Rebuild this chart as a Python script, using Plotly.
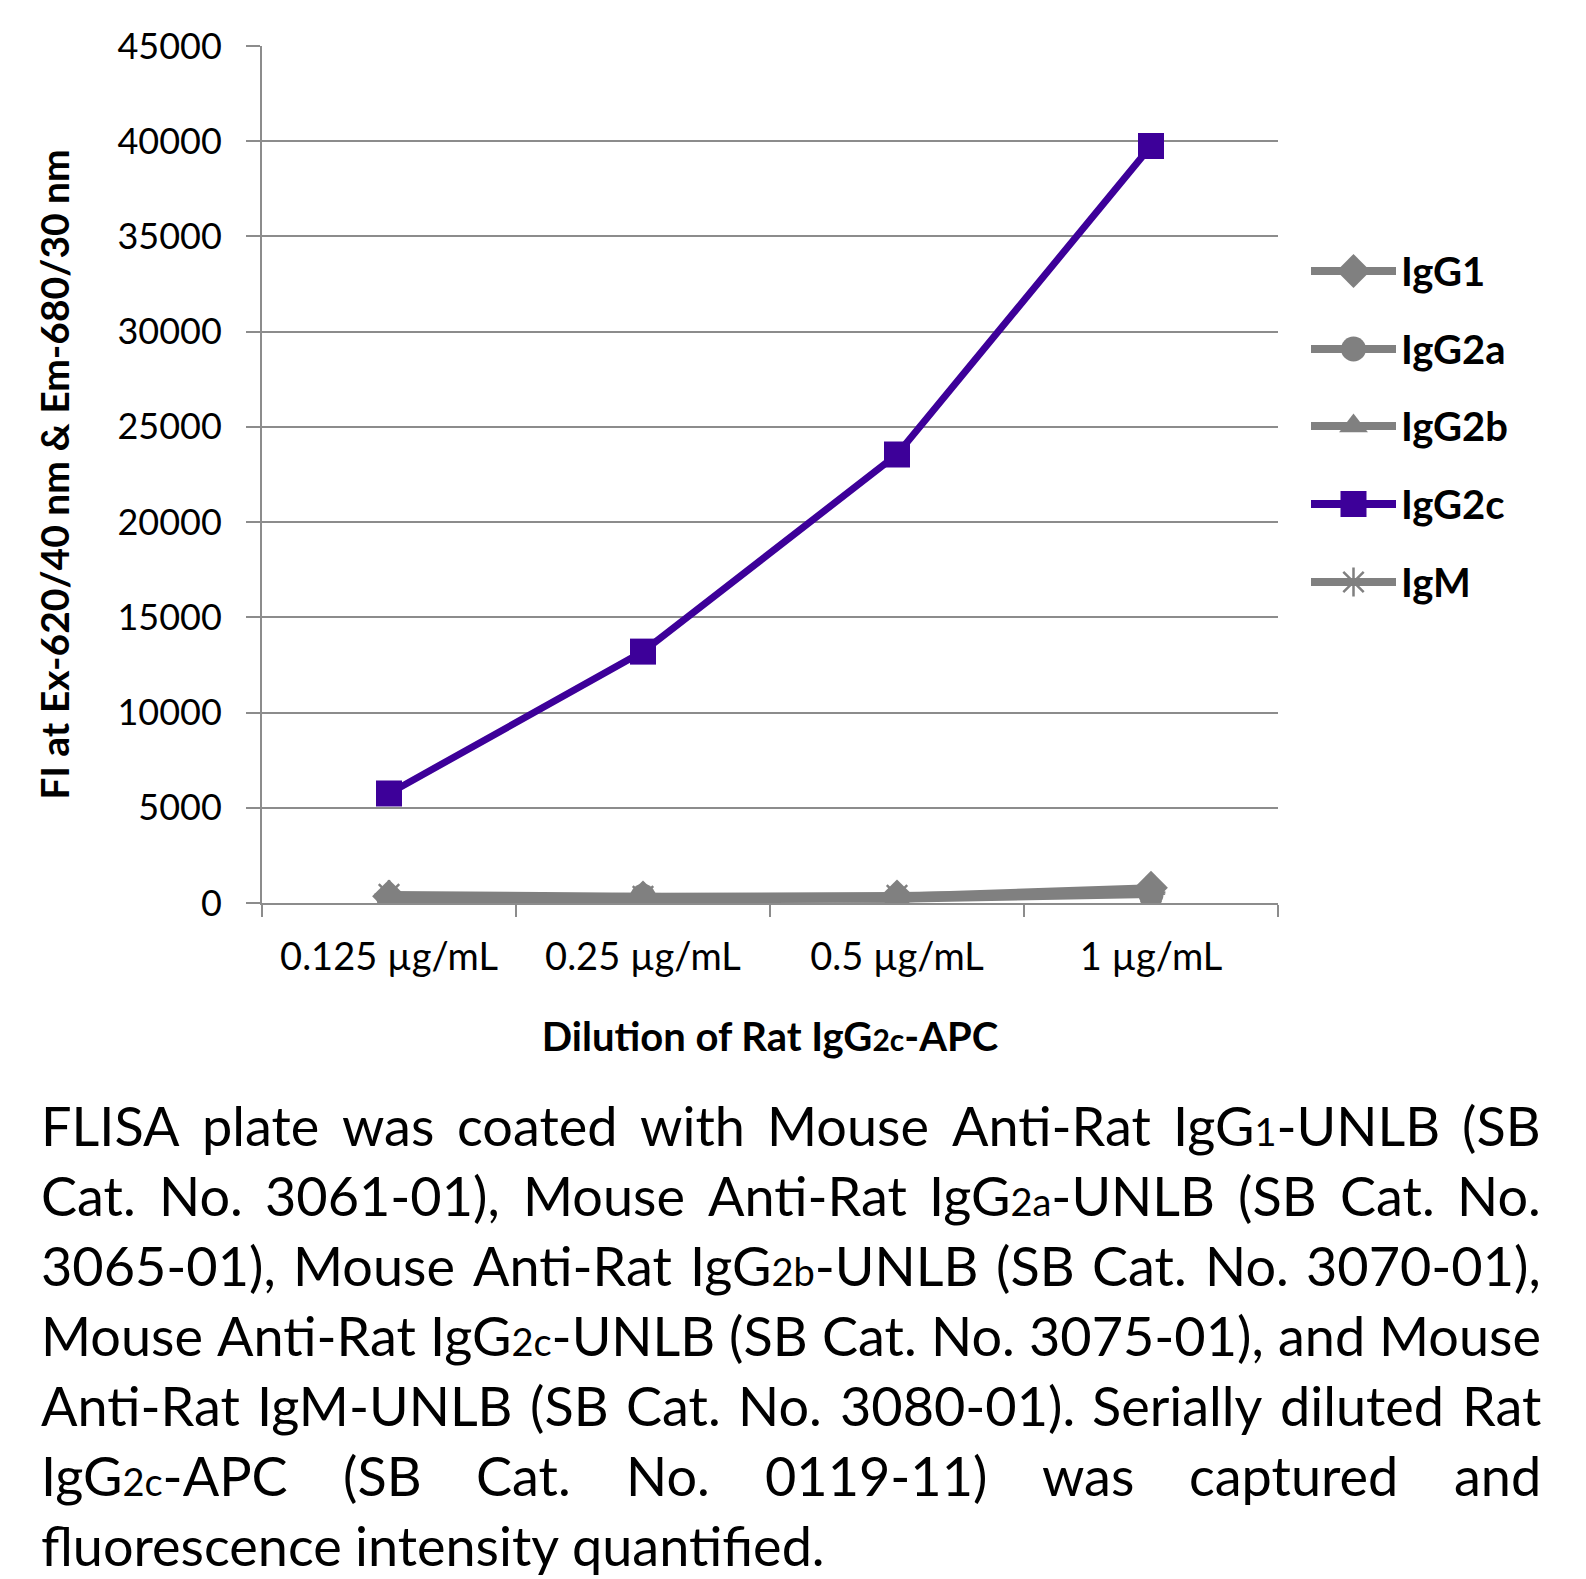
import plotly.graph_objects as go

# ---------------- data ----------------
categories = ["0.125 µg/mL", "0.25 µg/mL", "0.5 µg/mL", "1 µg/mL"]
igg1 = [350, 300, 350, 800]
igg2a = [250, 350, 200, 450]
igg2b = [150, 150, 200, 750]
igg2c = [5750, 13200, 23550, 39750]
igm = [450, 350, 400, 550]
y_ticks = [0, 5000, 10000, 15000, 20000, 25000, 30000, 35000, 40000, 45000]
legend_names = ["IgG1", "IgG2a", "IgG2b", "IgG2c", "IgM"]

GRAY = "#808080"
PURPLE = "#3D0099"
FONT = "Lato"

# page body has an 8px margin; figure coords = page coords - 8
W, H = 1578, 1571
ML, MT = 254, 38
PW_MAIN = 1016
PH = 857
MR = 20
PW = W - ML - MR
MB = H - MT - PH


def px(fx):
    return (fx - ML) / PW


def py(fy):
    return 1 - (fy - MT) / PH


fig = go.Figure()

styles = {
    "IgG1": (GRAY, dict(symbol="diamond", size=26)),
    "IgG2a": (GRAY, dict(symbol="circle", size=25)),
    "IgG2b": (GRAY, dict(symbol="triangle-up", size=25)),
    "IgG2c": (PURPLE, dict(symbol="square", size=26)),
    "IgM": (GRAY, dict(symbol="asterisk-open", size=24, line=dict(width=2.5, color=GRAY))),
}
series = [("IgG1", igg1), ("IgG2a", igg2a), ("IgG2b", igg2b), ("IgG2c", igg2c), ("IgM", igm)]
for name, vals in series:
    col, mk = styles[name]
    m = dict(color=col, **mk)
    if "line" not in m:
        m["line"] = dict(width=0)
    fig.add_trace(go.Scatter(
        x=categories, y=vals, name=name, mode="lines+markers",
        line=dict(color=col, width=7), marker=m, showlegend=False,
        xaxis="x", yaxis="y",
    ))

# custom legend (long line samples like the original)
leg_y = [263, 341, 418, 496, 574]
for name, ly in zip(legend_names, leg_y):
    col, mk = styles[name]
    m = dict(color=col, **mk)
    if "line" not in m:
        m["line"] = dict(width=0)
    fig.add_trace(go.Scatter(
        x=[0, 0.5, 1], y=[ly, ly, ly], mode="lines", line=dict(color=col, width=8),
        showlegend=False, hoverinfo="skip", xaxis="x2", yaxis="y2",
    ))
    fig.add_trace(go.Scatter(
        x=[0.5], y=[ly], mode="markers", marker=m,
        showlegend=False, hoverinfo="skip", xaxis="x2", yaxis="y2",
    ))
    fig.add_annotation(
        text=f"<b>{name}</b>", xref="paper", yref="paper",
        x=px(1391), y=py(ly), xanchor="left", yanchor="middle", showarrow=False,
        font=dict(family=FONT, size=40, color="black"),
    )

fig.update_layout(
    xaxis=dict(
        domain=[0, PW_MAIN / PW],
        type="category", categoryorder="array", categoryarray=categories,
        showgrid=False, showline=True, linecolor="#8c8c8c", linewidth=2,
        ticks="outside", tickson="boundaries", ticklen=12, tickwidth=2, tickcolor="#8c8c8c",
        ticklabelstandoff=19,
        tickfont=dict(family=FONT, size=38, color="black"),
        title=dict(text="<b>Dilution of Rat IgG<span style='font-size:30px'>2c</span>-APC</b>",
                   font=dict(family=FONT, size=40, color="black"), standoff=46),
        range=[-0.5, 3.5], zeroline=False,
    ),
    yaxis=dict(
        range=[0, 45000], tickvals=y_ticks, ticktext=[str(v) for v in y_ticks],
        showgrid=True, gridcolor="#8c8c8c", gridwidth=2,
        showline=True, linecolor="#8c8c8c", linewidth=2,
        ticks="outside", ticklen=14, tickwidth=2, tickcolor="#8c8c8c",
        ticklabelstandoff=17,
        tickfont=dict(family=FONT, size=36, color="black"),
        title=dict(text="<b>FI at Ex-620/40 nm &amp; Em-680/30 nm</b>",
                   font=dict(family=FONT, size=39, color="black"), standoff=36),
        zeroline=False,
    ),
    xaxis2=dict(domain=[px(1303), px(1388)], range=[0, 1], visible=False, fixedrange=True),
    yaxis2=dict(domain=[0, 1], range=[MT + PH, MT], visible=False, fixedrange=True, anchor="x2"),
)

# ---------------- caption (justified via post script) ----------------
SUB = "<span style='font-size:38px'>{}</span>"
caption_lines = [
    ["FLISA", "plate", "was", "coated", "with", "Mouse", "Anti-Rat", "IgG" + SUB.format("1") + "-UNLB", "(SB"],
    ["Cat.", "No.", "3061-01),", "Mouse", "Anti-Rat", "IgG" + SUB.format("2a") + "-UNLB", "(SB", "Cat.", "No."],
    ["3065-01),", "Mouse", "Anti-Rat", "IgG" + SUB.format("2b") + "-UNLB", "(SB", "Cat.", "No.", "3070-01),"],
    ["Mouse", "Anti-Rat", "IgG" + SUB.format("2c") + "-UNLB", "(SB", "Cat.", "No.", "3075-01),", "and", "Mouse"],
    ["Anti-Rat", "IgM-UNLB", "(SB", "Cat.", "No.", "3080-01).", "Serially", "diluted", "Rat"],
    ["IgG" + SUB.format("2c") + "-APC", "(SB", "Cat.", "No.", "0119-11)", "was", "captured", "and"],
    ["fluorescence", "intensity", "quantified."],
]
line_y = [1117, 1187, 1257, 1327, 1397, 1467, 1537]
CAP_LEFT, CAP_RIGHT = 32, 1532
CAP_SIZE = 54

for li, words in enumerate(caption_lines):
    last = li == len(caption_lines) - 1
    n = len(words)
    plain_len = [len(w.replace(SUB.split("{}")[0], "").replace("</span>", "")) for w in words]
    est_w = [c * CAP_SIZE * 0.5 for c in plain_len]
    if last:
        gap = CAP_SIZE * 0.25
    else:
        gap = (CAP_RIGHT - CAP_LEFT - sum(est_w)) / (n - 1)
    xpos = CAP_LEFT
    for wi, wtxt in enumerate(words):
        fig.add_annotation(
            name=("capL" if last else "cap") + f"{li}_{wi}",
            text=wtxt, xref="paper", yref="paper",
            x=px(xpos), y=py(line_y[li]),
            xanchor="left", yanchor="middle", showarrow=False, borderpad=0,
            font=dict(family=FONT, size=CAP_SIZE, color="black"),
        )
        xpos += est_w[wi] + gap

post = """
var gd = document.getElementById('{plot_id}');
try {
  var fl = gd._fullLayout;
  var L = fl._size.l, Wd = fl._size.w;
  var anns = gd.layout.annotations;
  var widths = {};
  gd.querySelectorAll('.annotation').forEach(function(n){
    var idx = +n.getAttribute('data-index');
    var t = n.querySelector('.annotation-text');
    if (t) widths[idx] = t.getBBox().width;
  });
  var groups = {}, lastFlag = {};
  anns.forEach(function(a, i){
    if (a.name && a.name.indexOf('cap') === 0) {
      var isLast = a.name.indexOf('capL') === 0;
      var p = a.name.slice(isLast ? 4 : 3).split('_');
      var li = +p[0];
      (groups[li] = groups[li] || []).push({i: i, j: +p[1]});
      lastFlag[li] = isLast;
    }
  });
  var upd = {};
  var left = %d, right = %d, fs = %d;
  Object.keys(groups).forEach(function(li){
    var g = groups[li].sort(function(a, b){ return a.j - b.j; });
    var tot = 0;
    g.forEach(function(o){ tot += (widths[o.i] || 0); });
    var gap = lastFlag[li] ? fs * 0.24 : (right - left - tot) / (g.length - 1);
    var x = left;
    g.forEach(function(o){
      upd['annotations[' + o.i + '].x'] = (x - L) / Wd;
      x += (widths[o.i] || 0) + gap;
    });
  });
  return Plotly.relayout(gd, upd);
} catch (e) { console.log(e); }
""" % (CAP_LEFT, CAP_RIGHT, CAP_SIZE)

fig.update_layout(
    width=W, height=H,
    margin=dict(l=ML, r=MR, t=MT, b=MB, autoexpand=False),
    paper_bgcolor="white", plot_bgcolor="white",
    font=dict(family=FONT, color="black"),
    showlegend=False,
)

fig.write_html("out.html", post_script=post)
